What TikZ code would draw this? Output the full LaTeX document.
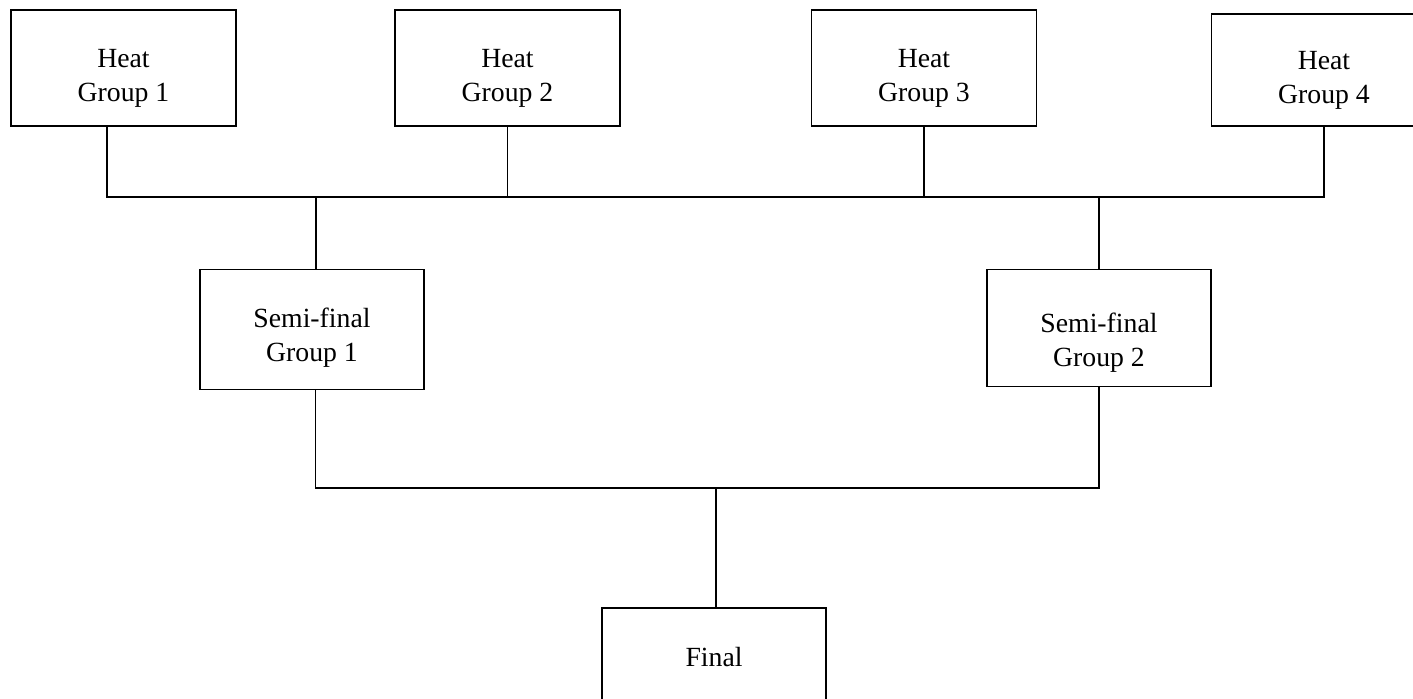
\documentclass[tikz,border=0pt]{standalone}
\usepackage{fontspec}
\setmainfont{Liberation Serif}
\newcommand{\boxtext}[3]{\begin{tabular}{@{}c@{}}\rule{0pt}{#1}#2\\#3\end{tabular}}
\begin{document}
\begin{tikzpicture}[x=0.75pt,y=-0.75pt,
  box/.style={draw,line width=1.1pt,align=center,inner sep=0pt,
    font=\fontsize{20.8}{25.5}\selectfont},
  heatbox/.style={box,minimum width=168.75pt,minimum height=87pt},
  semibox/.style={box,minimum width=168pt,minimum height=90pt},
  link/.style={line width=1.1pt}]
\useasboundingbox (0,0) rectangle (1413,699);
\clip (0,0) rectangle (1413,699);
\node[heatbox] (h1) at (123.5,68) {\boxtext{32.85pt}{Heat}{Group 1}};
\node[heatbox] (h2) at (507.5,68) {\boxtext{32.85pt}{Heat}{Group 2}};
\node[heatbox] (h3) at (924,68) {\boxtext{32.85pt}{Heat}{Group 3}};
\node[heatbox,minimum height=84pt] (h4) at (1324,70) {\boxtext{32.85pt}{Heat}{Group 4}};
\node[semibox] (s1) at (312,329.5) {\boxtext{29.85pt}{Semi-final}{Group 1}};
\node[semibox,minimum height=88pt] (s2) at (1099,328) {\boxtext{40.35pt}{Semi-final}{Group 2}};
\node[box,minimum width=168pt,minimum height=73.5pt] (f) at (714,657) {Final};
\coordinate (bus) at (0,197);
\coordinate (bus2) at (0,488);
\coordinate (h1x) at ([xshift=-12.4pt]h1.south);
\coordinate (s1x) at ([xshift=2.5pt]s1.south);
\coordinate (s1n) at ([xshift=3pt]s1.north);
\coordinate (fx) at ([xshift=1.5pt]f.north);
\draw[link] (h1x) -- (h1x |- bus) -- (h4.south |- bus) -- (h4.south);
\draw[link] (h2.south) -- (h2.south |- bus);
\draw[link] (h3.south) -- (h3.south |- bus);
\draw[link] (s1n) -- (s1n |- bus);
\draw[link] (s2.north) -- (s2.north |- bus);
\draw[link] (s1x) -- (s1x |- bus2) -- (s2.south |- bus2) -- (s2.south);
\draw[link] (fx) -- (fx |- bus2);
\end{tikzpicture}
\end{document}
